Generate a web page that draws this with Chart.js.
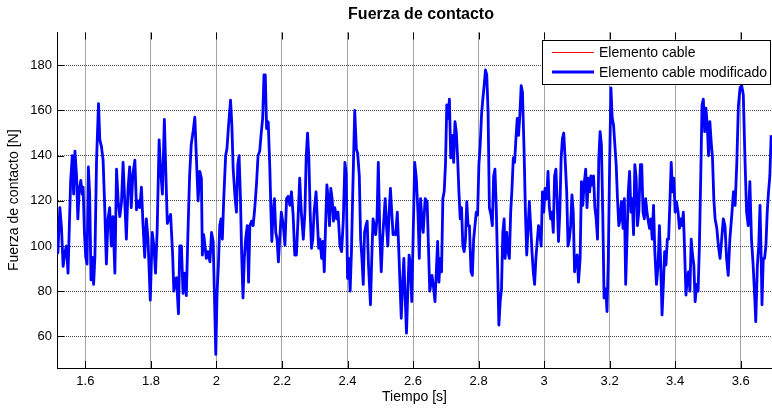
<!DOCTYPE html>
<html>
<head>
<meta charset="utf-8">
<title>Fuerza de contacto</title>
<script src="https://cdn.jsdelivr.net/npm/chart.js@4.4.1/dist/chart.umd.min.js"></script>
<style>
  html, body { margin: 0; padding: 0; background: #fff; }
  #wrap { width: 772px; height: 408px; }
</style>
</head>
<body>
<div id="wrap"><canvas id="fuerzaChart" width="772" height="408"></canvas></div>
<script>
// Fuerza de contacto pantógrafo-catenaria frente al tiempo
const tiempo = [
  1.513, 1.516, 1.522, 1.527, 1.532, 1.537, 1.542, 1.547, 1.552, 1.555, 1.560, 1.564, 1.568, 1.573, 1.577, 1.581,
  1.586, 1.590, 1.593, 1.597, 1.601, 1.605, 1.609, 1.613, 1.617, 1.621, 1.625, 1.629, 1.634, 1.640, 1.644, 1.649,
  1.654, 1.659, 1.664, 1.669, 1.674, 1.679, 1.684, 1.690, 1.695, 1.700, 1.705, 1.710, 1.715, 1.720, 1.725, 1.730,
  1.735, 1.740, 1.745, 1.751, 1.756, 1.761, 1.766, 1.771, 1.776, 1.781, 1.786, 1.791, 1.798, 1.804, 1.809, 1.814,
  1.819, 1.825, 1.829, 1.835, 1.841, 1.845, 1.850, 1.855, 1.860, 1.866, 1.870, 1.874, 1.878, 1.884, 1.888, 1.893,
  1.898, 1.903, 1.908, 1.913, 1.918, 1.923, 1.929, 1.934, 1.939, 1.944,
  1.949, 1.954, 1.957, 1.961, 1.965, 1.969, 1.974, 1.980, 1.985, 1.990, 1.994, 1.998, 2.002, 2.006, 2.010, 2.014,
  2.018, 2.022, 2.028, 2.032, 2.037, 2.043, 2.047, 2.051, 2.057, 2.061, 2.065, 2.069, 2.073, 2.077, 2.081, 2.085,
  2.089, 2.094, 2.098, 2.102, 2.107, 2.112, 2.117, 2.122, 2.127, 2.132, 2.136, 2.141, 2.145, 2.149, 2.153, 2.158,
  2.163, 2.166, 2.169, 2.173, 2.177, 2.181, 2.185, 2.189,
  2.193, 2.198, 2.204, 2.209, 2.214, 2.219, 2.224, 2.229, 2.234, 2.239, 2.244, 2.249, 2.254, 2.259, 2.265, 2.270,
  2.274, 2.278, 2.282, 2.286, 2.290, 2.294, 2.298, 2.304, 2.308, 2.312, 2.316, 2.321, 2.325, 2.329, 2.333, 2.337,
  2.341, 2.345, 2.349, 2.353, 2.357, 2.361, 2.367, 2.371, 2.377, 2.382, 2.387, 2.392, 2.396, 2.400, 2.404, 2.408,
  2.412, 2.416, 2.422,
  2.427, 2.431, 2.436, 2.440, 2.444, 2.448, 2.452, 2.456, 2.460, 2.464, 2.470, 2.474, 2.478, 2.482, 2.486, 2.490,
  2.494, 2.499, 2.503, 2.507, 2.511, 2.515, 2.519, 2.523, 2.527, 2.531, 2.535, 2.539, 2.543, 2.547, 2.552, 2.556,
  2.560, 2.564, 2.568, 2.572, 2.576, 2.580, 2.584, 2.588, 2.592, 2.596, 2.600, 2.605, 2.610, 2.615, 2.619, 2.623,
  2.627, 2.631, 2.637, 2.643, 2.647, 2.651,
  2.658, 2.663, 2.667, 2.671, 2.675, 2.679, 2.683, 2.687, 2.691, 2.695, 2.699, 2.703, 2.707, 2.711, 2.715, 2.720,
  2.724, 2.728, 2.732, 2.736, 2.740, 2.744, 2.748, 2.752, 2.756, 2.760, 2.764, 2.768, 2.772, 2.777, 2.781, 2.785,
  2.789, 2.793, 2.797, 2.801, 2.805, 2.809, 2.813, 2.817, 2.821, 2.825, 2.829, 2.833, 2.838, 2.842, 2.846, 2.850,
  2.854, 2.858, 2.862, 2.866, 2.870, 2.874, 2.878,
  2.881, 2.886, 2.890, 2.894, 2.898, 2.902, 2.906, 2.910, 2.914, 2.918, 2.922, 2.926, 2.930, 2.934, 2.939, 2.943,
  2.947, 2.951, 2.955, 2.959, 2.963, 2.967, 2.971, 2.975, 2.979, 2.983, 2.987, 2.991, 2.995, 2.999, 3.003, 3.008,
  3.012, 3.016, 3.020, 3.024, 3.028, 3.032, 3.036, 3.040, 3.044, 3.048, 3.052, 3.056, 3.060, 3.064, 3.069, 3.073,
  3.077, 3.081, 3.085, 3.089, 3.093, 3.097, 3.101, 3.105,
  3.110, 3.114, 3.118, 3.122, 3.127, 3.131, 3.135, 3.139, 3.143, 3.147, 3.151, 3.155, 3.159, 3.163, 3.167, 3.171,
  3.175, 3.179, 3.183, 3.188, 3.192, 3.196, 3.200, 3.204, 3.208, 3.212, 3.216, 3.220, 3.224, 3.228, 3.232, 3.236,
  3.241, 3.245, 3.249, 3.253, 3.257, 3.261, 3.265, 3.269, 3.273, 3.277, 3.281, 3.285, 3.289, 3.294, 3.298, 3.302,
  3.306, 3.310, 3.314, 3.318, 3.322, 3.326, 3.330, 3.334, 3.338,
  3.343, 3.348, 3.352, 3.356, 3.360, 3.364, 3.368, 3.372, 3.376, 3.380, 3.384, 3.388, 3.392, 3.396, 3.400, 3.404,
  3.409, 3.413, 3.417, 3.421, 3.425, 3.429, 3.433, 3.437, 3.441, 3.445, 3.449, 3.453, 3.457, 3.461, 3.466, 3.470,
  3.474, 3.478, 3.482, 3.486, 3.490, 3.494, 3.498, 3.502, 3.506, 3.510, 3.514, 3.518, 3.522,
  3.527, 3.532, 3.537, 3.542, 3.547, 3.552, 3.557, 3.562, 3.567, 3.573, 3.578, 3.583, 3.588, 3.593, 3.598, 3.603,
  3.608, 3.613, 3.618, 3.623, 3.628, 3.633, 3.638, 3.643, 3.646, 3.651, 3.655, 3.659, 3.663, 3.665, 3.669, 3.673,
  3.677, 3.681, 3.685, 3.689, 3.693
];

const fuerza = [
  106, 97, 117, 108, 91, 97, 100, 88, 114, 129, 140, 123, 142, 131, 112, 125,
  129, 123, 126, 106, 95, 92, 135, 123, 85, 95, 83, 95, 138, 163, 147, 144,
  138, 117, 92, 112, 117, 100, 113, 88, 134, 120, 113, 119, 137, 120, 103, 125,
  135, 117, 132, 138, 116, 120, 117, 126, 109, 95, 112, 103, 76, 106, 100, 88,
  107, 147, 135, 123, 156, 135, 110, 112, 114, 97, 80, 85, 86, 70, 100, 100,
  79, 88, 78, 106, 131, 145, 151, 157, 138, 120,
  133, 130, 96, 105, 100, 94.5, 97.5, 93, 106, 102, 77, 52, 80, 91.6, 109, 112,
  103, 120, 140, 143, 153.5, 164.6, 153.5, 134, 121, 115, 136, 140, 122.6, 96, 77, 94.5,
  103, 109, 84, 109, 111, 109, 117, 127, 140, 142, 149, 156.5, 175.7, 175.7, 152, 155,
  134, 116.7, 102, 115, 121, 106, 103, 93,
  103, 115, 109, 100.4, 121, 122, 118, 124, 113.7, 96, 96, 112, 130, 115, 103, 115,
  140, 150, 139, 115, 99, 103, 115, 124, 111, 99, 103, 94.5, 102, 88.6, 109, 127,
  121, 109, 125.5, 121, 111, 117, 112, 115, 100, 97.5, 111, 137, 132, 85.7, 94.5, 80,
  97.5, 124, 160,
  143, 141, 131, 103, 94.5, 83, 106, 109, 111, 91.6, 74, 94.5, 112, 109, 105, 112,
  137, 103, 88.6, 103, 112, 121, 109, 100, 115, 125.5, 115, 105, 106, 105, 115, 100,
  84, 68, 83, 94.5, 77, 61.4, 80, 96, 91.6, 75.4, 102, 137, 130, 115, 94.5, 121,
  112, 106, 121, 119.6, 100, 80,
  87, 81, 75.4, 88.6, 102, 84, 94.5, 88.6, 121, 124, 136, 162.4, 156.5, 165, 139, 149,
  137, 155, 150.6, 139, 124, 112, 117, 100, 97.5, 103, 119.6, 109, 109, 88.6, 87, 103,
  109, 115, 113.7, 136, 144.7, 158, 165, 171, 177.9, 175.7, 159.4, 117, 113.7, 109, 131, 134,
  117, 91.6, 65, 75.4, 81, 106, 112,
  94.5, 106, 97.5, 94.5, 115, 125.5, 139, 137, 147.6, 156.5, 149, 158, 171, 168, 141.7, 115,
  96, 107.8, 119.6, 109, 97.5, 88.6, 83, 94.5, 102, 109, 106, 100, 124, 115, 125.5, 121,
  133, 117, 112, 115, 106, 131, 134, 119.6, 102, 115, 139, 147.6, 150, 139, 124, 100,
  103, 109, 122.6, 115, 88.6, 94.5, 96, 84,
  94.5, 128.5, 118, 127, 134, 117, 130, 124, 131, 127, 131, 117, 112, 103, 139, 150.6,
  144.7, 115, 77, 81, 71, 94.5, 136, 170, 156.5, 153.5, 144.7, 136, 121, 109, 112, 119.6,
  107.8, 121, 83, 103, 124, 133, 115, 121, 105, 136, 130, 109, 115, 136, 136, 115,
  112, 121, 115, 111, 107.8, 112, 103, 118, 97.5,
  83, 91.6, 109, 91.6, 69.5, 83, 97.5, 91.6, 103, 103, 119.6, 137, 124, 130, 115, 119.6,
  115, 107.8, 112, 109, 115, 97.5, 78.3, 85.7, 88.6, 80, 103, 96, 91.6, 75.4, 83, 80,
  100, 130, 162.4, 165, 150.6, 161, 153.5, 140, 155, 146, 139, 121, 112,
  108, 100, 94.5, 103, 112, 109, 94.5, 87, 103, 114, 124, 118, 136, 162, 170, 171,
  167, 139, 115, 109, 128.5, 103, 91.6, 77, 66.5, 91.6, 100, 118, 91.6, 74, 94.5, 94.5,
  100, 115, 124, 131, 149
];

const ticksX = [1.6, 1.8, 2.0, 2.2, 2.4, 2.6, 2.8, 3.0, 3.2, 3.4, 3.6];
const ticksY = [60, 80, 100, 120, 140, 160, 180];
const limitesX = [1.5133, 3.6956];
const limitesY = [46, 194.5];

const titulo = "Fuerza de contacto";
const etiquetaX = "Tiempo [s]";
const etiquetaY = "Fuerza de contacto [N]";

const fuente = '"Liberation Sans", Arial, Helvetica, sans-serif';
const puntos = tiempo.map((t, i) => ({ x: t, y: fuerza[i] }));

// marcas de los ejes hacia dentro, como en MATLAB
const marcasInternas = {
  id: "marcasInternas",
  beforeDatasetsDraw(chart) {
    const { ctx, chartArea: a, scales } = chart;
    ctx.save();
    ctx.strokeStyle = "#000";
    ctx.lineWidth = 1;
    ctx.beginPath();
    ticksY.forEach((v) => {
      const py = Math.round(scales.y.getPixelForValue(v)) + 0.5;
      ctx.moveTo(a.left, py);
      ctx.lineTo(a.left + 7, py);
    });
    ticksX.forEach((v) => {
      const px = Math.round(scales.x.getPixelForValue(v)) + 0.5;
      ctx.moveTo(px, a.bottom);
      ctx.lineTo(px, a.bottom - 7);
      ctx.moveTo(px, a.top);
      ctx.lineTo(px, a.top + 7);
    });
    ctx.stroke();
    ctx.restore();
  },
};

// titulo y leyenda en recuadro
const tituloLeyenda = {
  id: "tituloLeyenda",
  afterDraw(chart) {
    const { ctx } = chart;
    ctx.save();
    ctx.fillStyle = "#000";
    ctx.font = "bold 16px " + fuente;
    ctx.textAlign = "center";
    ctx.textBaseline = "middle";
    ctx.fillText(titulo, 421, 15);

    const caja = { x: 542.5, y: 40.5, w: 228, h: 44 };
    ctx.fillStyle = "#fff";
    ctx.fillRect(caja.x, caja.y, caja.w, caja.h);
    ctx.strokeStyle = "#000";
    ctx.lineWidth = 1;
    ctx.strokeRect(caja.x, caja.y, caja.w, caja.h);

    ctx.font = "14px " + fuente;
    ctx.textAlign = "left";
    chart.data.datasets.forEach((ds, i) => {
      const ly = caja.y + 12 + i * 19.5;
      ctx.strokeStyle = ds.borderColor;
      ctx.lineWidth = ds.borderWidth;
      ctx.beginPath();
      ctx.moveTo(552, ly);
      ctx.lineTo(594, ly);
      ctx.stroke();
      ctx.fillStyle = "#000";
      ctx.fillText(ds.label, 599, ly + 1);
    });
    ctx.restore();
  },
};

const ctxFuerza = document.getElementById("fuerzaChart");
new Chart(ctxFuerza, {
  type: "line",
  data: {
    datasets: [
      {
        label: "Elemento cable",
        data: puntos,
        borderColor: "#ff0000",
        borderWidth: 1,
        pointRadius: 0,
        order: 1,
      },
      {
        label: "Elemento cable modificado",
        data: puntos,
        borderColor: "#0000ff",
        borderWidth: 2.8,
        pointRadius: 0,
        order: 0,
      },
    ],
  },
  options: {
    responsive: false,
    devicePixelRatio: 1,
    animation: false,
    events: [],
    layout: { padding: { top: 32.5, left: 0, right: 0, bottom: 0 } },
    elements: { line: { tension: 0, borderJoinStyle: "round" } },
    plugins: {
      legend: { display: false },
      title: { display: false },
      tooltip: { enabled: false },
    },
    scales: {
      x: {
        type: "linear",
        min: limitesX[0],
        max: limitesX[1],
        afterBuildTicks: (s) => { s.ticks = ticksX.map((v) => ({ value: v })); },
        afterFit: (s) => { s.height = 40; },
        ticks: {
          color: "#000",
          padding: 6,
          maxRotation: 0,
          font: { family: fuente, size: 13 },
          callback: (v) => String(+v.toFixed(1)),
        },
        grid: { color: "#4a4a4a", drawTicks: false },
        border: { display: true, color: "#000", width: 1, dash: [1, 1] },
        title: {
          display: true,
          text: etiquetaX,
          color: "#000",
          font: { family: fuente, size: 14 },
          padding: { top: 0, bottom: 2 },
        },
      },
      y: {
        type: "linear",
        min: limitesY[0],
        max: limitesY[1],
        afterBuildTicks: (s) => { s.ticks = ticksY.map((v) => ({ value: v })); },
        afterFit: (s) => { s.width = 57; },
        ticks: {
          color: "#000",
          padding: 5,
          font: { family: fuente, size: 13 },
        },
        grid: { color: "#4a4a4a", drawTicks: false },
        border: { display: true, color: "#000", width: 1, dash: [1, 1] },
        title: {
          display: true,
          text: etiquetaY,
          color: "#000",
          font: { family: fuente, size: 14 },
          padding: { top: 6, bottom: 0 },
        },
      },
    },
  },
  plugins: [marcasInternas, tituloLeyenda],
});
</script>
</body>
</html>
